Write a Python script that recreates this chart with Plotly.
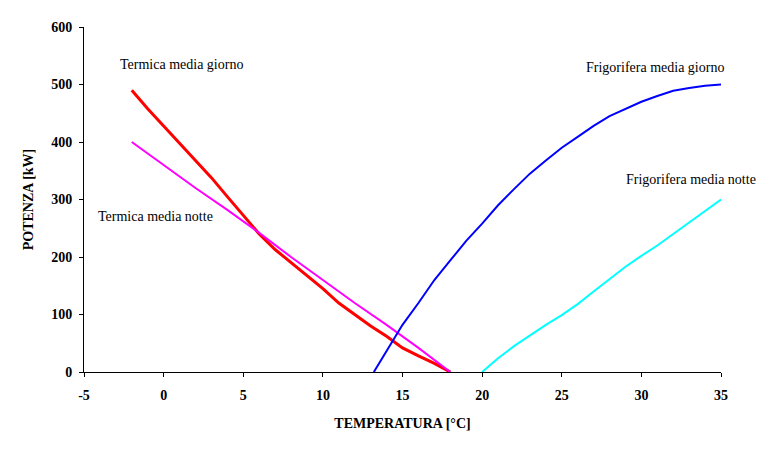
"""Potenza termica e frigorifera in funzione della temperatura esterna."""

import plotly.graph_objects as go

# Termica media giorno
temp_term_giorno = [-2, -1, 0, 1, 2, 3, 4, 5, 6, 7, 8, 9, 10, 11, 12, 13, 14, 15, 16, 17, 18]
pot_term_giorno = [490, 458, 428, 398, 368, 338, 305, 272, 240, 213, 190, 168, 145,
                   120, 100, 80, 62, 42, 28, 15, 0]

# Termica media notte
temp_term_notte = [-2, 0, 2, 4, 6, 8, 10, 12, 14, 16, 18]
pot_term_notte = [400, 360, 320, 282, 242, 200, 160, 120, 82, 42, 0]

# Frigorifera media giorno
temp_frig_giorno = [13.2, 14, 15, 16, 17, 18, 19, 20, 21, 22, 23, 24, 25, 26, 27,
                    28, 29, 30, 31, 32, 33, 34, 35]
pot_frig_giorno = [0, 37, 82, 120, 160, 194, 228, 258, 290, 318, 345, 368, 390,
                   409, 428, 445, 458, 470, 480, 489, 494, 498, 500]

# Frigorifera media notte
temp_frig_notte = [20, 21, 22, 23, 24, 25, 26, 27, 28, 29, 30, 31, 32, 33, 34, 35]
pot_frig_notte = [0, 24, 45, 64, 82, 99, 118, 140, 162, 183, 202, 220, 240, 260, 280, 300]

x_ticks = [-5, 0, 5, 10, 15, 20, 25, 30, 35]
x_ticklabels = ["-5", "0", "5", "10", "15", "20", "25", "30", "35"]

FONT = "Liberation Serif, Times New Roman, serif"

fig = go.Figure()
fig.add_trace(go.Scatter(x=temp_term_giorno, y=pot_term_giorno, mode="lines",
                         name="Termica media giorno",
                         line=dict(color="#FF0000", width=3)))
fig.add_trace(go.Scatter(x=temp_term_notte, y=pot_term_notte, mode="lines",
                         name="Termica media notte",
                         line=dict(color="#FF00FF", width=2)))
fig.add_trace(go.Scatter(x=temp_frig_giorno, y=pot_frig_giorno, mode="lines",
                         name="Frigorifera media giorno",
                         line=dict(color="#0000FF", width=2)))
fig.add_trace(go.Scatter(x=temp_frig_notte, y=pot_frig_notte, mode="lines",
                         name="Frigorifera media notte",
                         line=dict(color="#00FFFF", width=2)))

labels = [
    ("Termica media giorno", 1.14, 535),
    ("Termica media notte", -0.49, 270),
    ("Frigorifera media giorno", 30.86, 530),
    ("Frigorifera media notte", 33.1, 335),
]
for text, x, y in labels:
    fig.add_annotation(x=x, y=y, xref="x", yref="y", text=text, showarrow=False,
                       font=dict(family=FONT, size=14, color="black"))

axis_common = dict(
    showgrid=False, zeroline=False, showline=True, linecolor="black", linewidth=1,
    ticks="outside", ticklen=4, tickcolor="black",
    tickfont=dict(family=FONT, size=14, color="black", weight="bold"),
)

# the page body adds an 8 px offset, margins compensate for it
fig.update_layout(
    width=764, height=453,
    margin=dict(l=76, r=51, t=16, b=89),
    paper_bgcolor="white", plot_bgcolor="white",
    showlegend=False,
    xaxis=dict(range=[-5, 35], tickvals=x_ticks, ticktext=x_ticklabels,
               ticklabelstandoff=6,
               title=dict(text="<b>TEMPERATURA [°C]</b>", standoff=16,
                          font=dict(family=FONT, size=14, color="black")),
               **axis_common),
    yaxis=dict(range=[0, 600], dtick=100, ticklabelstandoff=4,
               title=dict(text="<b>POTENZA [kW]</b>", standoff=14,
                          font=dict(family=FONT, size=14, color="black")),
               **axis_common),
)

fig.write_html("out.html")
